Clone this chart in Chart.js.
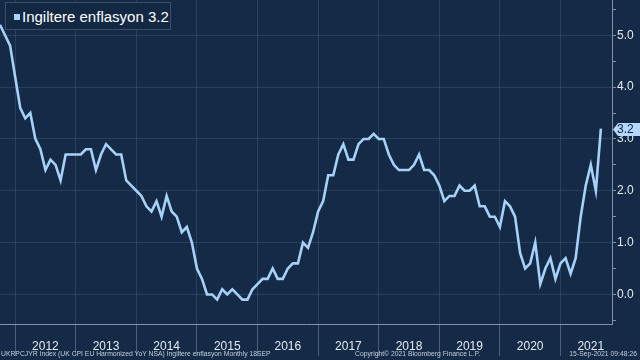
<!DOCTYPE html>
<html>
<head>
<meta charset="utf-8">
<script src="https://cdn.jsdelivr.net/npm/chart.js@4.4.1/dist/chart.umd.min.js"></script>
<style>
  html, body { margin:0; padding:0; background:#142a47; overflow:hidden; }
  #wrap { position:relative; width:640px; height:360px; background:#142a47; }
  canvas { position:absolute; left:0; top:0; }
  #legend { position:absolute; left:5px; top:2px; width:166px; height:28px; border:1px solid rgba(130,150,175,0.35);
            background:#132843; box-sizing:border-box; font-family:'Liberation Sans', Arial, sans-serif; font-size:15px; color:#ffffff; }
  #legend .sq { position:absolute; left:8px; top:11px; width:6px; height:6px; background:#a9d3fb; }
  #legend .tx { position:absolute; left:16px; top:5px; white-space:nowrap; line-height:17px; }
  .foot { position:absolute; top:349px; font-family:'Liberation Sans', Arial, sans-serif; font-size:6.8px; color:#c3ceda; white-space:nowrap; line-height:9px; }
</style>
</head>
<body>
<div id="wrap">
  <canvas id="c" width="640" height="360"></canvas>
  <div id="legend"><div class="sq"></div><div class="tx" id="legtext"></div></div>
  <div class="foot" id="f1" style="left:1px;"></div>
  <div class="foot" id="f2" style="left:355px;"></div>
  <div class="foot" id="f3" style="right:3px;"></div>
</div>
<script>
// ---- Data (UK CPI EU Harmonized YoY, monthly, Sep 2011 – Aug 2021) ----
const seriesName = 'Ingiltere enflasyon';
const firstMonth = 'Sep 2011';
const cpi2011 = [5.2, 5.0, 4.8, 4.2];                                      // Sep–Dec
const cpi2012 = [3.6, 3.4, 3.5, 3.0, 2.8, 2.4, 2.6, 2.5, 2.2, 2.7, 2.7, 2.7];
const cpi2013 = [2.7, 2.8, 2.8, 2.4, 2.7, 2.9, 2.8, 2.7, 2.7, 2.2, 2.1, 2.0];
const cpi2014 = [1.9, 1.7, 1.6, 1.8, 1.5, 1.9, 1.6, 1.5, 1.2, 1.3, 1.0, 0.5];
const cpi2015 = [0.3, 0.0, 0.0, -0.1, 0.1, 0.0, 0.1, 0.0, -0.1, -0.1, 0.1, 0.2];
const cpi2016 = [0.3, 0.3, 0.5, 0.3, 0.3, 0.5, 0.6, 0.6, 1.0, 0.9, 1.2, 1.6];
const cpi2017 = [1.8, 2.3, 2.3, 2.7, 2.9, 2.6, 2.6, 2.9, 3.0, 3.0, 3.1, 3.0];
const cpi2018 = [3.0, 2.7, 2.5, 2.4, 2.4, 2.4, 2.5, 2.7, 2.4, 2.4, 2.3, 2.1];
const cpi2019 = [1.8, 1.9, 1.9, 2.1, 2.0, 2.0, 2.1, 1.7, 1.7, 1.5, 1.5, 1.3];
const cpi2020 = [1.8, 1.7, 1.5, 0.8, 0.5, 0.6, 1.0, 0.2, 0.5, 0.7, 0.3, 0.6];
const cpi2021 = [0.7, 0.4, 0.7, 1.5, 2.1, 2.5, 2.0, 3.2];                  // Jan–Aug
const yearLabels = ['2012','2013','2014','2015','2016','2017','2018','2019','2020','2021'];
const yTickLabels = ['0.0','1.0','2.0','3.0','4.0','5.0'];
const footLeft = 'UKRPCJYR Index (UK CPI EU Harmonized YoY NSA) İngiltere enflasyon  Monthly 18SEP';
const footMid = 'Copyright© 2021 Bloomberg Finance L.P.';
const footRight = '15-Sep-2021 09:48:26';

// ---- Build ----
const values = [].concat(cpi2011, cpi2012, cpi2013, cpi2014, cpi2015, cpi2016, cpi2017, cpi2018, cpi2019, cpi2020, cpi2021);
// x = months relative to 1 Jan 2012 (month-end points), first point (Sep 2011) at -3
const leadMonths = cpi2011.length - 1;
const points = values.map((v, i) => ({ x: i - leadMonths, y: v }));
const lastVal = values[values.length - 1];

document.getElementById('legtext').textContent = seriesName + ' ' + lastVal.toFixed(1);
document.getElementById('f1').textContent = footLeft;
document.getElementById('f2').textContent = footMid;
document.getElementById('f3').textContent = footRight;

const GRID = 'rgba(120,145,175,0.22)';
const SEP = 'rgba(140,160,185,0.45)';
const AXIS = '#7f92a8';
const LINE = '#a6d1f8';
const TXT = '#e4eaf1';

const boundaryVals = yearLabels.map((_, i) => i * 12);
const centerVals = yearLabels.map((_, i) => i * 12 + 6);
const xTickVals = boundaryVals.concat(centerVals).sort((a, b) => a - b);
const yMajor = yTickLabels.map(s => parseFloat(s));
const yTickVals = [];
for (let i = 0; i < yMajor.length; i++) { yTickVals.push(yMajor[i] - 0.5); yTickVals.push(yMajor[i]); }
yTickVals.push(yMajor[yMajor.length - 1] + 0.5);

const isBoundary = v => boundaryVals.indexOf(v) >= 0;
const isMajor = v => yMajor.some(m => Math.abs(m - v) < 1e-9);

const tagPlugin = {
  id: 'lastTag',
  afterDraw(chart) {
    const c = chart.ctx;
    const ys = chart.scales.y;
    const y = Math.round(ys.getPixelForValue(lastVal)) + 0.5;
    const x0 = ys.left + 1;
    const h = 6.5;
    c.save();
    c.fillStyle = '#b4d8fb';
    c.beginPath();
    c.moveTo(x0, y);
    c.lineTo(x0 + 5, y - h);
    c.lineTo(640, y - h);
    c.lineTo(640, y + h);
    c.lineTo(x0 + 5, y + h);
    c.closePath();
    c.fill();
    c.fillStyle = '#0f2542';
    c.font = '12px "Liberation Sans", Arial, sans-serif';
    c.textAlign = 'left';
    c.textBaseline = 'middle';
    c.fillText(lastVal.toFixed(1), x0 + 4, y + 0.5);
    c.restore();
  }
};

new Chart(document.getElementById('c'), {
  type: 'line',
  data: { datasets: [{ label: seriesName, data: points, borderColor: LINE, borderWidth: 2.6,
                       pointRadius: 0, tension: 0, fill: false, borderJoinStyle: 'miter' }] },
  options: {
    responsive: false, animation: false, devicePixelRatio: 1,
    layout: { padding: 0 },
    plugins: { legend: { display: false }, tooltip: { enabled: false } },
    scales: {
      x: {
        type: 'linear', position: 'bottom', min: -3, max: 118.2,
        afterBuildTicks: s => { s.ticks = xTickVals.map(v => ({ value: v })); },
        afterFit: s => { s.height = 36; s.paddingLeft = 0; s.paddingRight = 0; s.paddingTop = 0; s.paddingBottom = 0; },
        grid: {
          color: ctx => (ctx.tick && isBoundary(ctx.tick.value)) ? GRID : 'rgba(0,0,0,0)',
          tickColor: ctx => (ctx.tick && isBoundary(ctx.tick.value)) ? SEP : 'rgba(0,0,0,0)',
          tickLength: 32, lineWidth: 1
        },
        border: { display: true, color: AXIS, width: 1 },
        ticks: {
          autoSkip: false, maxRotation: 0, minRotation: 0, padding: -17, color: TXT,
          font: { family: '"Liberation Sans", Arial, sans-serif', size: 12 },
          callback: v => { const i = centerVals.indexOf(v); return i >= 0 ? yearLabels[i] : ''; }
        }
      },
      y: {
        position: 'right', min: -0.57, max: 5.68,
        afterBuildTicks: s => { s.ticks = yTickVals.map(v => ({ value: v })); },
        afterFit: s => { s.width = 28; s.paddingTop = 0; s.paddingBottom = 0; s.paddingLeft = 0; s.paddingRight = 0; },
        grid: {
          color: ctx => (ctx.tick && isMajor(ctx.tick.value)) ? GRID : 'rgba(0,0,0,0)',
          tickColor: AXIS, tickLength: 4, lineWidth: 1
        },
        border: { display: true, color: AXIS, width: 1 },
        ticks: {
          padding: 1, color: TXT,
          font: { family: '"Liberation Sans", Arial, sans-serif', size: 12 },
          callback: v => { const i = yMajor.findIndex(m => Math.abs(m - v) < 1e-9); return i >= 0 ? yTickLabels[i] : ''; }
        }
      }
    }
  },
  plugins: [tagPlugin]
});
</script>
</body>
</html>
